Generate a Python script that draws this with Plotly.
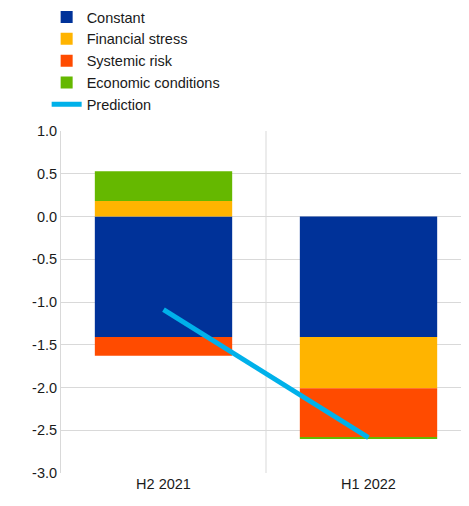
import plotly.graph_objects as go

categories = ["H2 2021", "H1 2022"]
constant = [-1.41, -1.41]
financial_stress = [0.18, -0.60]
systemic_risk = [-0.22, -0.57]
economic_conditions = [0.35, -0.015]
prediction = [-1.09, -2.585]

y_ticks = [1.0, 0.5, 0.0, -0.5, -1.0, -1.5, -2.0, -2.5, -3.0]
y_tick_labels = ["1.0", "0.5", "0.0", "-0.5", "-1.0", "-1.5", "-2.0", "-2.5", "-3.0"]

colors = {
    "Constant": "#003299",
    "Financial stress": "#FFB400",
    "Systemic risk": "#FF4B00",
    "Economic conditions": "#65B800",
    "Prediction": "#00B1EA",
}

fig = go.Figure()
for name, vals in [("Constant", constant), ("Financial stress", financial_stress),
                   ("Systemic risk", systemic_risk), ("Economic conditions", economic_conditions)]:
    fig.add_trace(go.Bar(x=categories, y=vals, name=name, marker_color=colors[name],
                         marker_line_width=0, width=0.67))
fig.add_trace(go.Scatter(x=categories, y=prediction, name="Prediction", mode="lines",
                         line=dict(color=colors["Prediction"], width=5)))

fig.update_layout(
    width=469, height=506,
    barmode="relative",
    plot_bgcolor="white", paper_bgcolor="white",
    margin=dict(l=53, r=6, t=123, b=41, autoexpand=False),
    font=dict(family="Liberation Sans, Arial, sans-serif", size=14, color="#1a1a1a"),
    showlegend=True,
    legend=dict(x=-0.035, y=1.38, xanchor="left", yanchor="top", traceorder="normal",
                font=dict(size=14.5), itemwidth=30, tracegroupgap=0, bgcolor="rgba(0,0,0,0)"),
    xaxis=dict(range=[-0.5, 1.5], showgrid=False, showline=False, ticks="",
               tickfont=dict(size=14.5)),
    yaxis=dict(range=[-3, 1], tickvals=y_ticks, ticktext=y_tick_labels, showgrid=True,
               gridcolor="#d9d9d9", gridwidth=1, zeroline=False, showline=True,
               linecolor="#d9d9d9", linewidth=1, ticks="", tickfont=dict(size=14.5)),
    shapes=[
        dict(type="line", xref="x", yref="paper", x0=0.5, x1=0.5, y0=0, y1=1,
             line=dict(color="#d9d9d9", width=1), layer="below"),
        dict(type="line", xref="paper", yref="paper", x0=-0.132, x1=-0.132, y0=-0.15, y1=1.4,
             line=dict(color="#d9d9d9", width=1)),
    ],
)

fig.write_html("out.html")
